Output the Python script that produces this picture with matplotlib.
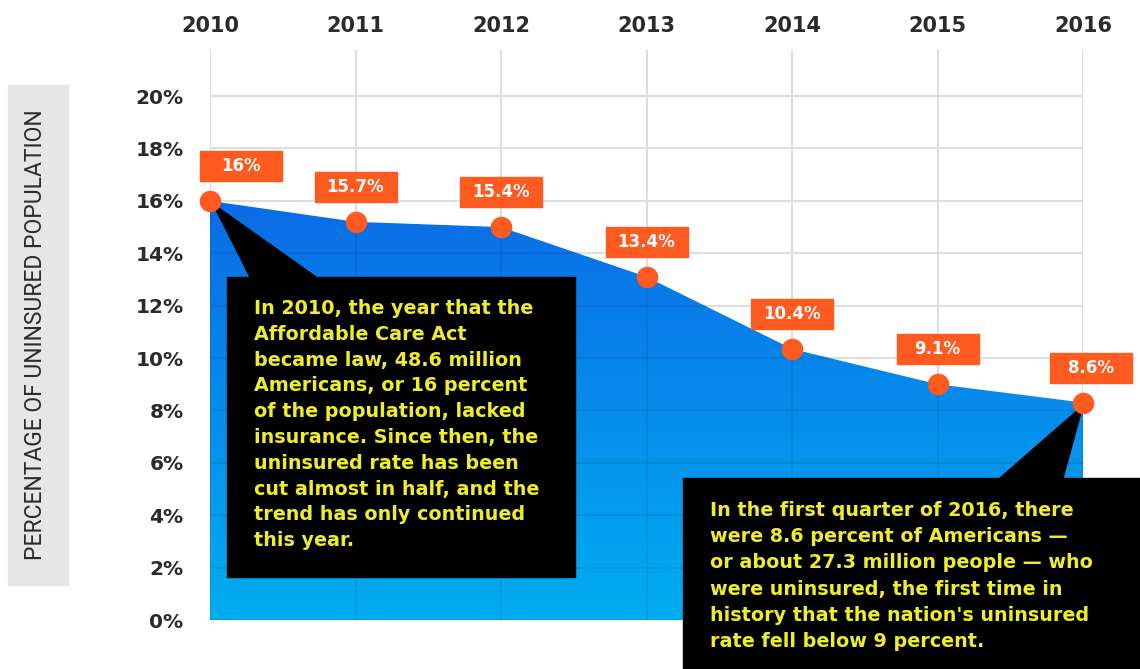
import matplotlib
matplotlib.use('Agg')
import matplotlib.pyplot as plt
import matplotlib.patches as mpatches
import matplotlib.transforms as mtransforms
from matplotlib.colors import LinearSegmentedColormap
import numpy as np

years = [2010, 2011, 2012, 2013, 2014, 2015, 2016]
# dot heights as drawn in the chart (%), and the printed labels
rate = [16.0, 15.2, 15.0, 13.1, 10.35, 9.0, 8.3]
rate_labels = ['16%', '15.7%', '15.4%', '13.4%', '10.4%', '9.1%', '8.6%']
yticks = [0, 2, 4, 6, 8, 10, 12, 14, 16, 18, 20]
ytick_labels = ['%d%%' % t for t in yticks]
ylabel = 'PERCENTAGE OF UNINSURED POPULATION'

note_2010 = ['In 2010, the year that the',
             'Affordable Care Act',
             'became law, 48.6 million',
             'Americans, or 16 percent',
             'of the population, lacked',
             'insurance. Since then, the',
             'uninsured rate has been',
             'cut almost in half, and the',
             'trend has only continued',
             'this year.']
note_2016 = ['In the first quarter of 2016, there',
             'were 8.6 percent of Americans \u2014',
             'or about 27.3 million people \u2014 who',
             'were uninsured, the first time in',
             "history that the nation's uninsured",
             'rate fell below 9 percent.']

ORANGE = '#FF5A1F'
YELLOW = '#EDED2C'
INK = '#2b2b2b'
WIDE = ['DejaVu Sans']   # the source image is stretched sideways, so use a wide face

plt.rcParams['font.family'] = ['Roboto', 'DejaVu Sans']

fig = plt.figure(figsize=(11.4, 6.69), dpi=100)
ax = fig.add_axes([210/1140, 49/669, 873/1140, 570/669])
for s in ax.spines.values():
    s.set_visible(False)

# gradient area under the line
cmap = LinearSegmentedColormap.from_list('fill', ['#02ADF1', '#0A6CE6'])
grad = np.linspace(0, 1, 256).reshape(-1, 1)
poly = ax.fill_between(years, rate, 0, color='none', lw=0)
clip = poly.get_paths()[0]
img = ax.imshow(grad, extent=[years[0], years[-1], 0, max(rate)], origin='lower',
                cmap=cmap, aspect='auto', zorder=1)
img.set_clip_path(clip, transform=ax.transData)

ax.set_xlim(years[0], years[-1])
ax.set_ylim(0, 21.76)

# grid: light grey on white, faint shade where it crosses the blue area
lines = [ax.axhline(t, color='#dedede', lw=1.5, zorder=0.5) for t in yticks]
lines += [ax.axvline(yr, color='#dedede', lw=1.5, zorder=0.5) for yr in years]
for t in yticks:
    ln = ax.axhline(t, color='black', alpha=0.08, lw=1.5, zorder=2)
    ln.set_clip_path(clip, transform=ax.transData)
for yr in years:
    ln = ax.axvline(yr, color='black', alpha=0.08, lw=1.5, zorder=2)
    ln.set_clip_path(clip, transform=ax.transData)

# ticks
ax.set_yticks(yticks)
ax.set_yticklabels(ytick_labels, fontsize=14.5, fontweight='bold', color=INK, family=WIDE)
ax.xaxis.tick_top()
ax.set_xticks(years)
ax.set_xticklabels([str(y) for y in years], fontsize=15, fontweight='bold', color=INK,
                   family=WIDE)
ax.tick_params(axis='y', length=0, pad=19)
ax.tick_params(axis='x', length=0, pad=10)

# dots
ax.plot(years, rate, 'o', ms=15.5, color=ORANGE, mec='none', zorder=6, clip_on=False)

px_t = mtransforms.IdentityTransform()

# value boxes
for i, (yr, v, lab) in enumerate(zip(years, rate, rate_labels)):
    px, py = ax.transData.transform((yr, v))
    dx = 31 if i == 0 else (8 if i == len(years) - 1 else 0)
    cx, cy = px + dx, py + 35
    ax.add_patch(mpatches.Rectangle((cx - 41, cy - 15), 82, 30, transform=px_t,
                                    color=ORANGE, zorder=7, clip_on=False))
    ax.text(cx, cy, lab, transform=px_t, ha='center', va='center', color='white',
            fontsize=12, fontweight='bold', family=WIDE, zorder=8, clip_on=False)

# callout boxes (display pixels, origin bottom-left)
def callout(x0, y0, x1, y1, apex, base, lines, tx, ty, step):
    ax.add_patch(mpatches.Polygon([apex, (base[0], y1), (base[1], y1)], closed=True,
                                  transform=px_t, color='black', zorder=4, clip_on=False))
    ax.add_patch(mpatches.Rectangle((x0, y0), x1 - x0, y1 - y0, transform=px_t,
                                    color='black', zorder=4, clip_on=False))
    for k, line in enumerate(lines):
        ax.text(tx, ty - k * step, line, transform=px_t, ha='left', va='baseline',
                color=YELLOW, fontsize=13.8, fontweight='bold', family=WIDE,
                zorder=5, clip_on=False)

a1 = ax.transData.transform((years[0], rate[0]))
callout(227, 92, 575, 392, (a1[0] + 3, a1[1] - 3), (250, 316),
        note_2010, 254, 355, 25.8)
a2 = ax.transData.transform((years[-1], rate[-1]))
callout(683, 0, 1140, 191, (a2[0], a2[1] - 3), (1000, 1063),
        note_2016, 710, 153, 26.2)

# y label in grey band
fig.add_artist(mpatches.Rectangle((8, 84), 60, 500, transform=px_t, color='#e6e6e6', zorder=0))
fig.text(36, 334, ylabel, transform=px_t, rotation=90, ha='center', va='center',
         fontsize=16.5, color=INK)

fig.savefig('out.png', dpi=100)
